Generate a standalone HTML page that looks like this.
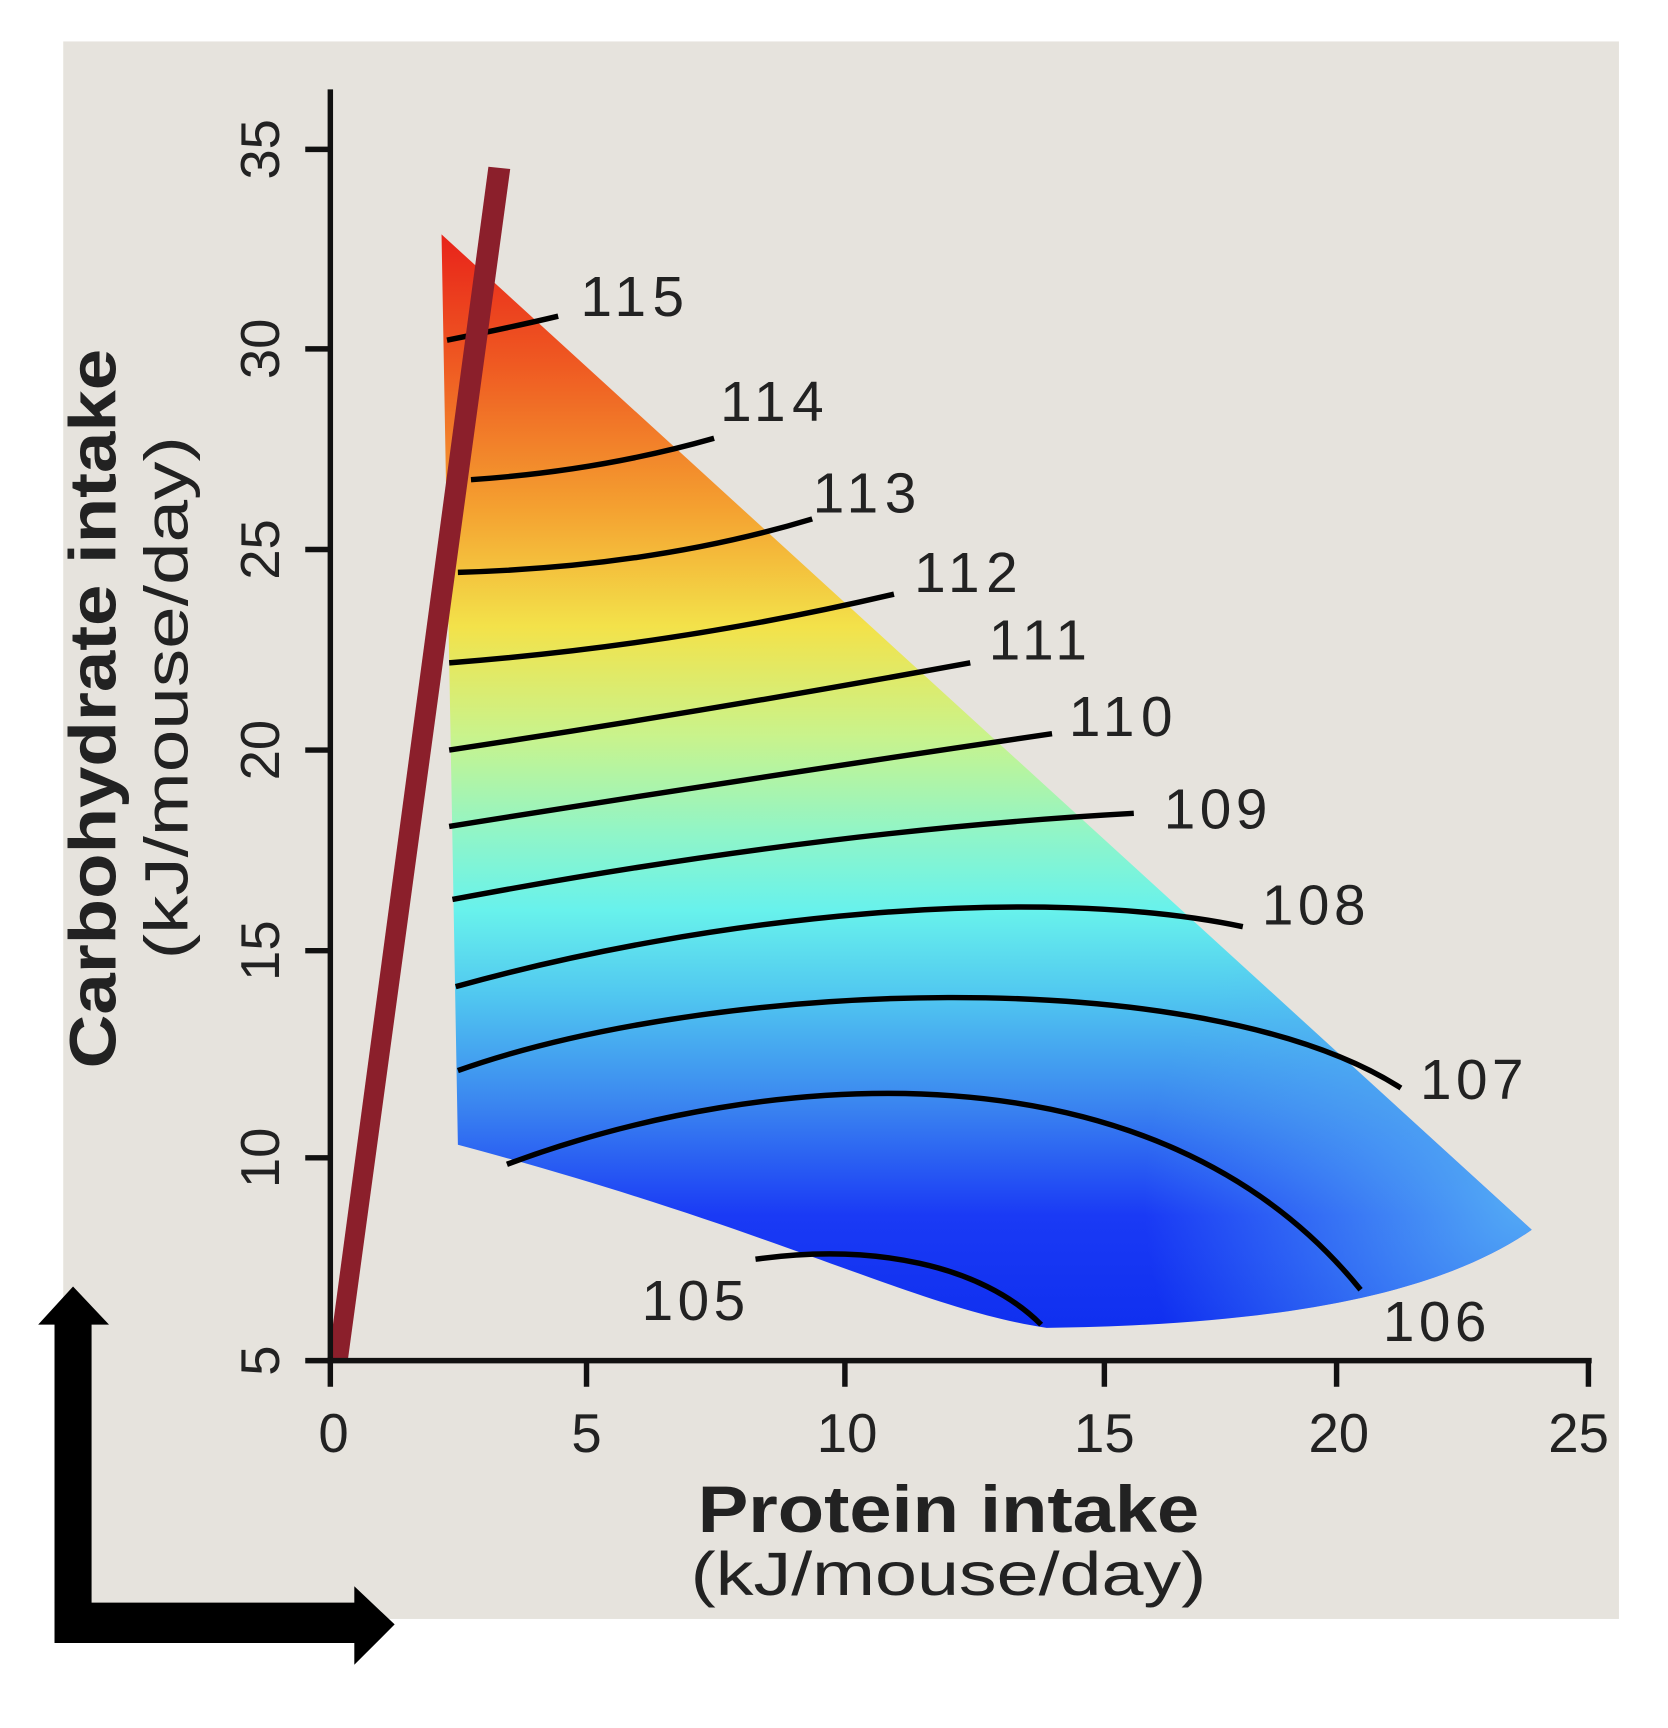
<!DOCTYPE html>
<html><head><meta charset="utf-8"><style>html,body{margin:0;padding:0;background:#fff}svg{display:block}</style></head>
<body>
<svg width="1668" height="1728" viewBox="0 0 1530 1585" preserveAspectRatio="none" xmlns="http://www.w3.org/2000/svg" font-family="Liberation Sans, sans-serif">
<defs>
<linearGradient id="g" x1="0" y1="215" x2="0" y2="1215" gradientUnits="userSpaceOnUse">
<stop offset="0" stop-color="#e8231a"/>
<stop offset="0.12" stop-color="#ef5a22"/>
<stop offset="0.25" stop-color="#f4a030"/>
<stop offset="0.36" stop-color="#f3e24a"/>
<stop offset="0.46" stop-color="#c9f38c"/>
<stop offset="0.55" stop-color="#90f5c8"/>
<stop offset="0.62" stop-color="#68f2ec"/>
<stop offset="0.70" stop-color="#50c6f0"/>
<stop offset="0.80" stop-color="#3a84f0"/>
<stop offset="0.90" stop-color="#1a3af5"/>
<stop offset="1" stop-color="#1030f0"/>
</linearGradient>
<radialGradient id="r" cx="1400" cy="1100" r="350" gradientUnits="userSpaceOnUse">
<stop offset="0" stop-color="#5ab8f5" stop-opacity="0.9"/>
<stop offset="1" stop-color="#5ab8f5" stop-opacity="0"/>
</radialGradient>
</defs>
<rect x="0" y="0" width="1530" height="1585" fill="#fff"/>
<rect x="58" y="38" width="1427" height="1447" fill="#e6e3dd"/>
<path d="M405,215 L1405,1128 C1330,1180 1200,1215 960,1218 C840,1200 720,1130 420,1050 Z" fill="url(#g)"/>
<path d="M405,215 L1405,1128 C1330,1180 1200,1215 960,1218 C840,1200 720,1130 420,1050 Z" fill="url(#r)"/>
<g fill="none" stroke="#000" stroke-width="5">
<path d="M410,312 Q470,300 512,290"/>
<path d="M432,440 Q550,432 655,402"/>
<path d="M420,525 Q600,520 745,476"/>
<path d="M412,608 Q620,592 820,545"/>
<path d="M412,688 Q650,652 890,608"/>
<path d="M412,758 Q700,712 965,673"/>
<path d="M415,825 Q750,762 1040,746"/>
<path d="M418,905 C650,840 950,810 1140,850"/>
<path d="M420,982 C650,900 1100,880 1285,998"/>
<path d="M465,1068 C700,980 1060,950 1248,1183"/>
<path d="M693,1155 C800,1140 900,1160 955,1215"/>
</g>
<g font-size="52" fill="#222" text-anchor="middle">
<text x="580" y="290" textLength="95">115</text><text x="708" y="386" textLength="95">114</text><text x="793" y="470" textLength="95">113</text>
<text x="886" y="543" textLength="95">112</text><text x="952" y="605" textLength="90">111</text><text x="1028" y="675" textLength="95">110</text>
<text x="1115" y="760" textLength="95">109</text><text x="1205" y="848" textLength="95">108</text><text x="1350" y="1008" textLength="95">107</text>
<text x="1316" y="1230" textLength="95">106</text><text x="636" y="1211" textLength="95">105</text>
</g>
<polygon points="301,1248 319,1248 468,155 448,153" fill="#8b1f2b"/>
<g stroke="#111" stroke-width="5" fill="none">
<line x1="303" y1="82" x2="303" y2="1250"/>
<line x1="300" y1="1248" x2="1460" y2="1248"/>
<line x1="280" y1="137" x2="303" y2="137"/><line x1="280" y1="320" x2="303" y2="320"/><line x1="280" y1="504" x2="303" y2="504"/><line x1="280" y1="688" x2="303" y2="688"/><line x1="280" y1="872" x2="303" y2="872"/><line x1="280" y1="1062" x2="303" y2="1062"/><line x1="280" y1="1248" x2="303" y2="1248"/>
<line x1="303" y1="1248" x2="303" y2="1272"/><line x1="538" y1="1248" x2="538" y2="1272"/><line x1="775" y1="1248" x2="775" y2="1272"/><line x1="1013" y1="1248" x2="1013" y2="1272"/><line x1="1226" y1="1248" x2="1226" y2="1272"/><line x1="1457" y1="1248" x2="1457" y2="1272"/>
</g>
<g font-size="50" fill="#222" text-anchor="middle">
<text x="306" y="1332">0</text><text x="538" y="1332">5</text><text x="777" y="1332">10</text>
<text x="1013" y="1332">15</text><text x="1228" y="1332">20</text><text x="1448" y="1332">25</text>
</g>
<g font-size="50" fill="#222" text-anchor="middle">
<text transform="translate(256,137) rotate(-90)">35</text>
<text transform="translate(256,320) rotate(-90)">30</text>
<text transform="translate(256,504) rotate(-90)">25</text>
<text transform="translate(256,688) rotate(-90)">20</text>
<text transform="translate(256,872) rotate(-90)">15</text>
<text transform="translate(256,1062) rotate(-90)">10</text>
<text transform="translate(256,1248) rotate(-90)">5</text>
</g>
<text x="870" y="1405" font-size="60" font-weight="bold" fill="#222" text-anchor="middle" textLength="460" lengthAdjust="spacingAndGlyphs">Protein intake</text>
<text x="870" y="1463" font-size="56" fill="#222" text-anchor="middle" textLength="473" lengthAdjust="spacingAndGlyphs">(kJ/mouse/day)</text>
<text transform="translate(106,650) rotate(-90)" font-size="60" font-weight="bold" fill="#222" text-anchor="middle" textLength="660" lengthAdjust="spacingAndGlyphs">Carbohydrate intake</text>
<text transform="translate(172,640) rotate(-90)" font-size="56" fill="#222" text-anchor="middle" textLength="480" lengthAdjust="spacingAndGlyphs">(kJ/mouse/day)</text>
<polygon points="50,1505 50,1215 35,1215 67,1180 100,1215 84,1215 84,1470 325,1470 325,1455 362,1490 325,1527 325,1507 50,1507" fill="#000"/>
</svg>
</body></html>
